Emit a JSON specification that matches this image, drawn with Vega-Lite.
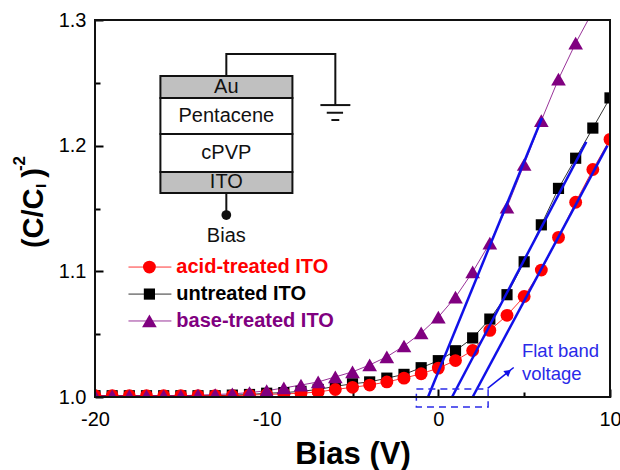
{
"$schema":"https://vega.github.io/schema/vega-lite/v6.json",
"width":515,"height":377,
"autosize":{"type":"none"},
"padding":{"left":95,"top":20,"right":10,"bottom":73},
"background":"white",
"view":{"stroke":null},
"config":{"font":"Liberation Sans"},
"datasets":{
"curves":[
{"series":"untreated ITO","bias":-20,"value":1.001},{"series":"untreated ITO","bias":-19,"value":1.001},{"series":"untreated ITO","bias":-18,"value":1.001},{"series":"untreated ITO","bias":-17,"value":1.001},{"series":"untreated ITO","bias":-16,"value":1.001},{"series":"untreated ITO","bias":-15,"value":1.001},{"series":"untreated ITO","bias":-14,"value":1.001},{"series":"untreated ITO","bias":-13,"value":1.001},{"series":"untreated ITO","bias":-12,"value":1.0015},{"series":"untreated ITO","bias":-11,"value":1.002},{"series":"untreated ITO","bias":-10,"value":1.003},{"series":"untreated ITO","bias":-9,"value":1.0035},{"series":"untreated ITO","bias":-8,"value":1.0045},{"series":"untreated ITO","bias":-7,"value":1.006},{"series":"untreated ITO","bias":-6,"value":1.0085},{"series":"untreated ITO","bias":-5,"value":1.0105},{"series":"untreated ITO","bias":-4,"value":1.012},{"series":"untreated ITO","bias":-3,"value":1.015},{"series":"untreated ITO","bias":-2,"value":1.018},{"series":"untreated ITO","bias":-1,"value":1.0233},{"series":"untreated ITO","bias":0,"value":1.0289},{"series":"untreated ITO","bias":1,"value":1.0368},{"series":"untreated ITO","bias":2,"value":1.047},{"series":"untreated ITO","bias":3,"value":1.062},{"series":"untreated ITO","bias":4,"value":1.0814},{"series":"untreated ITO","bias":5,"value":1.1076},{"series":"untreated ITO","bias":6,"value":1.137},{"series":"untreated ITO","bias":7,"value":1.166},{"series":"untreated ITO","bias":8,"value":1.19},{"series":"untreated ITO","bias":9,"value":1.214},{"series":"untreated ITO","bias":10,"value":1.238},
{"series":"acid-treated ITO","bias":-20,"value":1.001},{"series":"acid-treated ITO","bias":-19,"value":1.001},{"series":"acid-treated ITO","bias":-18,"value":1.001},{"series":"acid-treated ITO","bias":-17,"value":1.001},{"series":"acid-treated ITO","bias":-16,"value":1.001},{"series":"acid-treated ITO","bias":-15,"value":1.001},{"series":"acid-treated ITO","bias":-14,"value":1.001},{"series":"acid-treated ITO","bias":-13,"value":1.001},{"series":"acid-treated ITO","bias":-12,"value":1.001},{"series":"acid-treated ITO","bias":-11,"value":1.0015},{"series":"acid-treated ITO","bias":-10,"value":1.002},{"series":"acid-treated ITO","bias":-9,"value":1.0025},{"series":"acid-treated ITO","bias":-8,"value":1.003},{"series":"acid-treated ITO","bias":-7,"value":1.004},{"series":"acid-treated ITO","bias":-6,"value":1.006},{"series":"acid-treated ITO","bias":-5,"value":1.0077},{"series":"acid-treated ITO","bias":-4,"value":1.0095},{"series":"acid-treated ITO","bias":-3,"value":1.012},{"series":"acid-treated ITO","bias":-2,"value":1.015},{"series":"acid-treated ITO","bias":-1,"value":1.0185},{"series":"acid-treated ITO","bias":0,"value":1.023},{"series":"acid-treated ITO","bias":1,"value":1.029},{"series":"acid-treated ITO","bias":2,"value":1.037},{"series":"acid-treated ITO","bias":3,"value":1.053},{"series":"acid-treated ITO","bias":4,"value":1.065},{"series":"acid-treated ITO","bias":5,"value":1.08},{"series":"acid-treated ITO","bias":6,"value":1.101},{"series":"acid-treated ITO","bias":7,"value":1.127},{"series":"acid-treated ITO","bias":8,"value":1.155},{"series":"acid-treated ITO","bias":9,"value":1.181},{"series":"acid-treated ITO","bias":10,"value":1.205},
{"series":"base-treated ITO","bias":-20,"value":1.001},{"series":"base-treated ITO","bias":-19,"value":1.001},{"series":"base-treated ITO","bias":-18,"value":1.001},{"series":"base-treated ITO","bias":-17,"value":1.001},{"series":"base-treated ITO","bias":-16,"value":1.001},{"series":"base-treated ITO","bias":-15,"value":1.001},{"series":"base-treated ITO","bias":-14,"value":1.0015},{"series":"base-treated ITO","bias":-13,"value":1.002},{"series":"base-treated ITO","bias":-12,"value":1.0025},{"series":"base-treated ITO","bias":-11,"value":1.0035},{"series":"base-treated ITO","bias":-10,"value":1.005},{"series":"base-treated ITO","bias":-9,"value":1.0072},{"series":"base-treated ITO","bias":-8,"value":1.0095},{"series":"base-treated ITO","bias":-7,"value":1.012},{"series":"base-treated ITO","bias":-6,"value":1.016},{"series":"base-treated ITO","bias":-5,"value":1.02},{"series":"base-treated ITO","bias":-4,"value":1.0255},{"series":"base-treated ITO","bias":-3,"value":1.032},{"series":"base-treated ITO","bias":-2,"value":1.0406},{"series":"base-treated ITO","bias":-1,"value":1.051},{"series":"base-treated ITO","bias":0,"value":1.0636},{"series":"base-treated ITO","bias":1,"value":1.0795},{"series":"base-treated ITO","bias":2,"value":1.0995},{"series":"base-treated ITO","bias":3,"value":1.1225},{"series":"base-treated ITO","bias":4,"value":1.151},{"series":"base-treated ITO","bias":5,"value":1.185},{"series":"base-treated ITO","bias":6,"value":1.22},{"series":"base-treated ITO","bias":7,"value":1.253},{"series":"base-treated ITO","bias":8,"value":1.2816},{"series":"base-treated ITO","bias":9,"value":1.307}
],
"fits":[
{"fit":"base","bias":-0.6,"value":1.0},{"fit":"base","bias":6.04,"value":1.222},
{"fit":"untreated","bias":0.8,"value":1.0},{"fit":"untreated","bias":8.62,"value":1.203},
{"fit":"acid","bias":2.0,"value":1.0},{"fit":"acid","bias":9.85,"value":1.2}
],
"legendLines":[
{"series":"acid-treated ITO","bias":-18.05,"value":1.1034},{"series":"acid-treated ITO","bias":-15.55,"value":1.1034},
{"series":"untreated ITO","bias":-18.05,"value":1.0819},{"series":"untreated ITO","bias":-15.55,"value":1.0819},
{"series":"base-treated ITO","bias":-18.05,"value":1.0605},{"series":"base-treated ITO","bias":-15.55,"value":1.0605}
],
"legendItems":[
{"series":"untreated ITO","bias":-16.83,"value":1.0819,"labelBias":-15.26},
{"series":"acid-treated ITO","bias":-16.83,"value":1.1034,"labelBias":-15.26},
{"series":"base-treated ITO","bias":-16.83,"value":1.0605,"labelBias":-15.26}
],
"layers":[
{"layer":"Au","x1":-16.19,"x2":-8.5,"y1":1.2379,"y2":1.2554,"fill":"metal"},
{"layer":"Pentacene","x1":-16.19,"x2":-8.5,"y1":1.2092,"y2":1.2379,"fill":"film"},
{"layer":"cPVP","x1":-16.19,"x2":-8.5,"y1":1.179,"y2":1.2092,"fill":"film"},
{"layer":"ITO","x1":-16.19,"x2":-8.5,"y1":1.1623,"y2":1.179,"fill":"metal"}
],
"wires":[
{"wire":"top","bias":-12.35,"value":1.2554,"o":1},{"wire":"top","bias":-12.35,"value":1.2729,"o":2},{"wire":"top","bias":-6.0,"value":1.2729,"o":3},{"wire":"top","bias":-6.0,"value":1.2323,"o":4},
{"wire":"g1","bias":-6.87,"value":1.2323,"o":1},{"wire":"g1","bias":-5.125,"value":1.2323,"o":2},
{"wire":"g2","bias":-6.5,"value":1.2262,"o":1},{"wire":"g2","bias":-5.55,"value":1.2262,"o":2},
{"wire":"g3","bias":-6.23,"value":1.2204,"o":1},{"wire":"g3","bias":-5.77,"value":1.2204,"o":2},
{"wire":"bias","bias":-12.35,"value":1.1623,"o":1},{"wire":"bias","bias":-12.35,"value":1.1448,"o":2}
],
"diagramText":[
{"t":"Au","bias":-12.35,"value":1.2466},
{"t":"Pentacene","bias":-12.35,"value":1.2235},
{"t":"cPVP","bias":-12.35,"value":1.1941},
{"t":"ITO","bias":-12.35,"value":1.171},
{"t":"Bias","bias":-12.35,"value":1.1281}
]
},
"layer":[
{"data":{"name":"layers"},"mark":{"type":"rect","stroke":"#111111","strokeWidth":2},
 "encoding":{"x":{"field":"x1","type":"quantitative","scale":{"domain":[-20,10],"nice":false,"zero":false},
   "axis":{"values":[-20,-15,-10,-5,0,5,10],"labelExpr":"datum.value%10==0?datum.value:''","domain":false,"grid":false,"tickColor":"black","tickWidth":2,"tickSize":{"condition":{"test":"datum.value%10==0","value":-8},"value":-5},"labelFontSize":20,"labelColor":"black","labelPadding":20,"labelFlush":false,"labelOverlap":false,"title":"Bias (V)","titleFontSize":31,"titleFontWeight":"bold","titleColor":"black","titlePadding":7}},
  "x2":{"field":"x2"},
  "y":{"field":"y1","type":"quantitative","scale":{"domain":[1,1.3],"nice":false,"zero":false},
   "axis":{"values":[1,1.05,1.1,1.15,1.2,1.25,1.3],"labelExpr":"abs(round(datum.value*10)-datum.value*10)<0.001?format(datum.value,'.1f'):''","domain":false,"grid":false,"tickColor":"black","tickWidth":2,"tickSize":{"condition":{"test":"abs(round(datum.value*10)-datum.value*10)<0.001","value":-8},"value":-5},"labelFontSize":20,"labelColor":"black","labelPadding":17,"labelOverlap":false,"title":null}},
  "y2":{"field":"y2"},
  "fill":{"field":"fill","type":"nominal","scale":{"domain":["metal","film"],"range":["#c0c0c0","#ffffff"]},"legend":null}}},
{"data":{"name":"wires"},"mark":{"type":"line","color":"#111111","strokeWidth":2},
 "encoding":{"x":{"field":"bias","type":"quantitative"},"y":{"field":"value","type":"quantitative"},"detail":{"field":"wire"},"order":{"field":"o"}}},
{"data":{"values":[{"bias":-12.35,"value":1.1448}]},"mark":{"type":"point","filled":true,"color":"#111111","size":95,"opacity":1},
 "encoding":{"x":{"field":"bias","type":"quantitative"},"y":{"field":"value","type":"quantitative"}}},
{"data":{"name":"diagramText"},"mark":{"type":"text","fontSize":20,"color":"#111111","align":"center","baseline":"middle"},
 "encoding":{"x":{"field":"bias","type":"quantitative"},"y":{"field":"value","type":"quantitative"},"text":{"field":"t"}}},
{"data":{"name":"curves"},"mark":{"type":"line","strokeWidth":1,"clip":true,"opacity":0.8},
 "encoding":{"x":{"field":"bias","type":"quantitative"},"y":{"field":"value","type":"quantitative"},
  "color":{"field":"series","type":"nominal","scale":{"domain":["untreated ITO","acid-treated ITO","base-treated ITO"],"range":["#000000","#ff0000","#800080"]},"legend":null}}},
{"data":{"name":"curves"},"transform":[{"filter":"datum.series=='untreated ITO'"}],"mark":{"type":"point","shape":"square","size":125,"filled":true,"opacity":1,"clip":true,"color":"#000000"},
 "encoding":{"x":{"field":"bias","type":"quantitative"},"y":{"field":"value","type":"quantitative"}}},
{"data":{"name":"curves"},"transform":[{"filter":"datum.series=='acid-treated ITO'"}],"mark":{"type":"point","shape":"circle","size":165,"filled":true,"opacity":1,"clip":true,"color":"#ff0000"},
 "encoding":{"x":{"field":"bias","type":"quantitative"},"y":{"field":"value","type":"quantitative"}}},
{"data":{"name":"curves"},"transform":[{"filter":"datum.series=='base-treated ITO'"}],"mark":{"type":"point","shape":"triangle-up","size":215,"filled":true,"opacity":1,"clip":true,"color":"#800080"},
 "encoding":{"x":{"field":"bias","type":"quantitative"},"y":{"field":"value","type":"quantitative"}}},
{"data":{"name":"fits"},"mark":{"type":"line","color":"#1010e8","strokeWidth":2.5},
 "encoding":{"x":{"field":"bias","type":"quantitative"},"y":{"field":"value","type":"quantitative"},"detail":{"field":"fit"}}},
{"data":{"name":"legendLines"},"mark":{"type":"line","strokeWidth":1,"opacity":0.8},
 "encoding":{"x":{"field":"bias","type":"quantitative"},"y":{"field":"value","type":"quantitative"},"color":{"field":"series","type":"nominal","legend":null}}},
{"data":{"name":"legendItems"},"transform":[{"filter":"datum.series=='untreated ITO'"}],"mark":{"type":"point","shape":"square","size":125,"filled":true,"opacity":1,"color":"#000000"},
 "encoding":{"x":{"field":"bias","type":"quantitative"},"y":{"field":"value","type":"quantitative"}}},
{"data":{"name":"legendItems"},"transform":[{"filter":"datum.series=='acid-treated ITO'"}],"mark":{"type":"point","shape":"circle","size":165,"filled":true,"opacity":1,"color":"#ff0000"},
 "encoding":{"x":{"field":"bias","type":"quantitative"},"y":{"field":"value","type":"quantitative"}}},
{"data":{"name":"legendItems"},"transform":[{"filter":"datum.series=='base-treated ITO'"}],"mark":{"type":"point","shape":"triangle-up","size":215,"filled":true,"opacity":1,"color":"#800080"},
 "encoding":{"x":{"field":"bias","type":"quantitative"},"y":{"field":"value","type":"quantitative"}}},
{"data":{"name":"legendItems"},"mark":{"type":"text","fontSize":20,"fontWeight":"bold","align":"left","baseline":"middle"},
 "encoding":{"x":{"field":"labelBias","type":"quantitative"},"y":{"field":"value","type":"quantitative"},"text":{"field":"series"},"color":{"field":"series","type":"nominal","legend":null}}},
{"data":{"values":[{"x1":-1.28,"x2":2.9,"y1":0.992,"y2":1.0064}]},"mark":{"type":"rect","fillOpacity":0,"stroke":"#2a2ae8","strokeWidth":1.5,"strokeDash":[7,5]},
 "encoding":{"x":{"field":"x1","type":"quantitative"},"x2":{"field":"x2"},"y":{"field":"y1","type":"quantitative"},"y2":{"field":"y2"}}},
{"data":{"values":[{"bias":2.87,"value":1.0069},{"bias":4.39,"value":1.0235}]},"mark":{"type":"line","color":"#1010e8","strokeWidth":1.5},
 "encoding":{"x":{"field":"bias","type":"quantitative"},"y":{"field":"value","type":"quantitative"}}},
{"data":{"values":[{"bias":4.08,"value":1.0199}]},"mark":{"type":"point","shape":"triangle-up","filled":true,"color":"#1010e8","size":60,"angle":51,"opacity":1},
 "encoding":{"x":{"field":"bias","type":"quantitative"},"y":{"field":"value","type":"quantitative"}}},
{"data":{"values":[{"t":"Flat band","bias":4.87,"value":1.0366},{"t":"voltage","bias":4.87,"value":1.0183}]},"mark":{"type":"text","fontSize":18.5,"color":"#2a2ae8","align":"left","baseline":"middle"},
 "encoding":{"x":{"field":"bias","type":"quantitative"},"y":{"field":"value","type":"quantitative"},"text":{"field":"t"}}},
{"data":{"values":[{"t":"(C/C","bias":-23.05,"value":1.1185},{"t":")","bias":-23.05,"value":1.1745}]},"mark":{"type":"text","fontSize":29,"fontWeight":"bold","color":"black","angle":270,"align":"left","baseline":"alphabetic"},
 "encoding":{"x":{"field":"bias","type":"quantitative"},"y":{"field":"value","type":"quantitative"},"text":{"field":"t"}}},
{"data":{"values":[{"t":"I","bias":-22.85,"value":1.1663}]},"mark":{"type":"text","fontSize":15,"fontWeight":"bold","color":"black","angle":270,"align":"left","baseline":"alphabetic"},
 "encoding":{"x":{"field":"bias","type":"quantitative"},"y":{"field":"value","type":"quantitative"},"text":{"field":"t"}}},
{"data":{"values":[{"t":"-2","bias":-24.1,"value":1.1798}]},"mark":{"type":"text","fontSize":17,"fontWeight":"bold","color":"black","angle":270,"align":"left","baseline":"alphabetic"},
 "encoding":{"x":{"field":"bias","type":"quantitative"},"y":{"field":"value","type":"quantitative"},"text":{"field":"t"}}},
{"data":{"values":[{"x1":-20,"x2":10,"y1":1,"y2":1.3}]},"mark":{"type":"rect","fillOpacity":0,"stroke":"#111111","strokeWidth":2},
 "encoding":{"x":{"field":"x1","type":"quantitative"},"x2":{"field":"x2"},"y":{"field":"y1","type":"quantitative"},"y2":{"field":"y2"}}}
],
"resolve":{"scale":{"color":"shared"}}
}
